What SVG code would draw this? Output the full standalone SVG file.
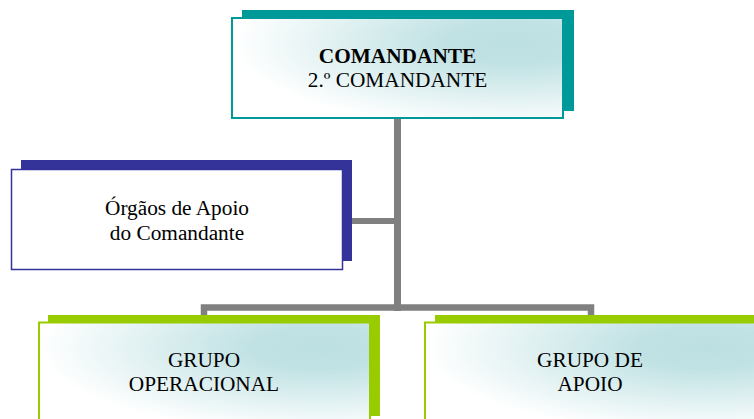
<svg xmlns="http://www.w3.org/2000/svg" width="754" height="419" viewBox="0 0 754 419">
  <defs>
    <radialGradient id="tealGrad" cx="0.85" cy="0.25" r="0.85" fx="0.85" fy="0.25">
      <stop offset="0" stop-color="#bcdfe2"/>
      <stop offset="0.25" stop-color="#c1e2e4"/>
      <stop offset="1" stop-color="#ffffff"/>
    </radialGradient>
  </defs>
  <style>
    text { font-family: 'Liberation Serif', Tinos, 'Times New Roman', 'DejaVu Serif', serif; font-size: 21.3px; fill: #000000; text-anchor: middle; }
    .bold { font-weight: bold; }
    .conn { fill: none; stroke: #808080; stroke-linejoin: miter; stroke-linecap: butt; }
    .teal-shadow { fill: #009999; }
    .teal-box { fill: url(#tealGrad); stroke: #009999; stroke-width: 2; }
    .navy-shadow { fill: #333399; }
    .navy-box { fill: #ffffff; stroke: #333399; stroke-width: 1.5; }
    .green-shadow { fill: #99cc00; }
    .green-box { fill: url(#tealGrad); stroke: #99cc00; stroke-width: 2; }
  </style>
  <rect width="754" height="419" fill="#ffffff"/>
  <g id="connectors">
    <path class="conn" d="M397.5,110 V311" stroke-width="7"/>
    <path class="conn" d="M350,221 H398" stroke-width="6"/>
    <path class="conn" d="M204,318 V307.5 H591 V318" stroke-width="6.5"/>
  </g>
  <g id="comandante">
    <rect class="teal-shadow" x="242" y="10" width="332" height="101"/>
    <rect class="teal-box" x="232" y="18" width="331" height="100"/>
    <text class="bold" x="397.5" y="63" font-family="Liberation Serif, serif">COMANDANTE</text>
    <text x="397.5" y="87" font-family="Liberation Serif, serif">2.º COMANDANTE</text>
  </g>
  <g id="orgaos-apoio">
    <rect class="navy-shadow" x="21" y="160" width="331" height="101"/>
    <rect class="navy-box" x="11.5" y="169.5" width="331" height="100"/>
    <text x="177" y="215" font-family="Liberation Serif, serif">Órgãos de Apoio</text>
    <text x="177" y="240" font-family="Liberation Serif, serif">do Comandante</text>
  </g>
  <g id="grupo-operacional">
    <rect class="green-shadow" x="48" y="315" width="332" height="101"/>
    <rect class="green-box" x="39" y="322.5" width="331" height="100"/>
    <text x="204" y="367" font-family="Liberation Serif, serif">GRUPO</text>
    <text x="204" y="391" font-family="Liberation Serif, serif">OPERACIONAL</text>
  </g>
  <g id="grupo-apoio">
    <rect class="green-shadow" x="435" y="315" width="332" height="101"/>
    <rect class="green-box" x="425" y="322.5" width="331" height="100"/>
    <text x="590" y="367" font-family="Liberation Serif, serif">GRUPO DE</text>
    <text x="590" y="391" font-family="Liberation Serif, serif">APOIO</text>
  </g>
</svg>
